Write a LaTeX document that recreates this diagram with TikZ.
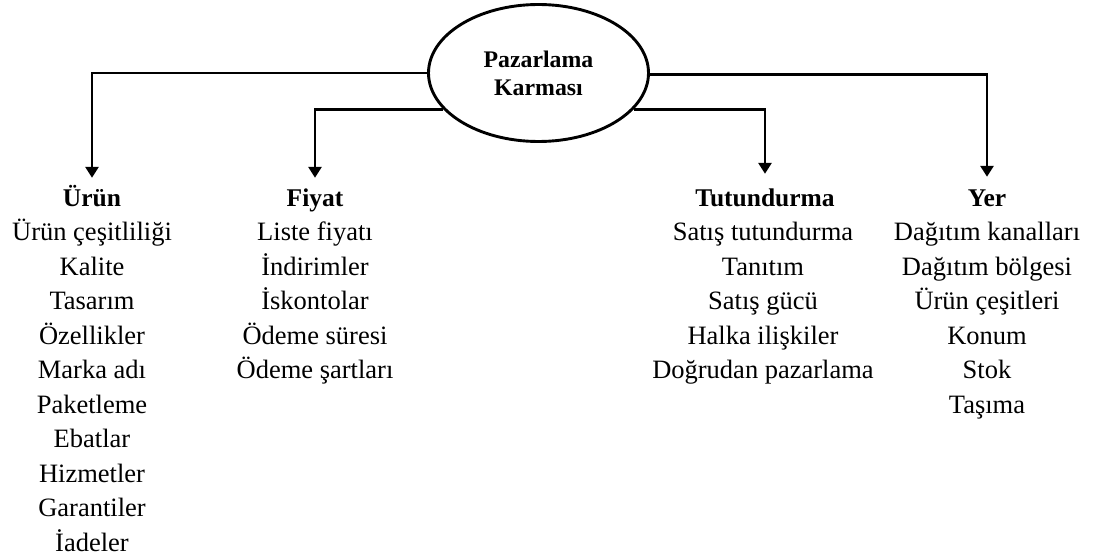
\documentclass[tikz,border=0pt]{standalone}
\usepackage{fontspec}
\setmainfont{Liberation Serif}
\usetikzlibrary{arrows.meta,shapes.geometric}
\begin{document}
\begin{tikzpicture}[x=1pt,y=-1pt,
  conn/.style={line width=2.9pt, -{Triangle[width=13pt,length=11pt]}},
  hub/.style={ellipse, draw, line width=2.9pt, minimum width=220pt,
    minimum height=137pt, inner sep=0pt, align=center,
    font=\bfseries\fontsize{23.8}{28}\selectfont},
  head/.style={anchor=base, inner sep=0pt, text height=18pt,
    font=\bfseries\fontsize{25.5}{30}\selectfont},
  entry/.style={anchor=base, inner sep=0pt,
    font=\fontsize{26.5}{32}\selectfont}]
\useasboundingbox (0,0) rectangle (1095,559);

% central ellipse
\node[hub] (e) at (538.5,73) {Pazarlama\\Karması};

% column headings
\node[head] (urun) at (92,206) {Ürün};
\node[head] (fiyat) at (315,206) {Fiyat};
\node[head] (tutundurma) at (765,206) {Tutundurma};
\node[head] (yer) at (987,206) {Yer};

% column entries
\foreach \t [count=\i] in {Ürün çeşitliliği, Kalite, Tasarım, Özellikler,
    Marka adı, Paketleme, Ebatlar, Hizmetler, Garantiler, İadeler}
  \node[entry] (urun-\i) at (92,206+34.5*\i) {\t};
\foreach \t [count=\i] in {Liste fiyatı, İndirimler, İskontolar,
    Ödeme süresi, Ödeme şartları}
  \node[entry] (fiyat-\i) at (315,206+34.5*\i) {\t};
\foreach \t [count=\i] in {Satış tutundurma, Tanıtım, Satış gücü,
    Halka ilişkiler, Doğrudan pazarlama}
  \node[entry] (tutundurma-\i) at (763,206+34.5*\i) {\t};
\foreach \t [count=\i] in {Dağıtım kanalları, Dağıtım bölgesi,
    Ürün çeşitleri, Konum, Stok, Taşıma}
  \node[entry] (yer-\i) at (987,206+34.5*\i) {\t};

% connectors from the ellipse to each heading
\draw[conn, shorten >=10pt] (e.west) -| (urun.north);
\draw[conn, shorten >=10pt] (e.201) -| (fiyat.north);
\draw[conn, shorten >=14pt] (e.339) -| (tutundurma.north);
\draw[conn, shorten >=11pt] (e.359) -| (yer.north);
\end{tikzpicture}
\end{document}
